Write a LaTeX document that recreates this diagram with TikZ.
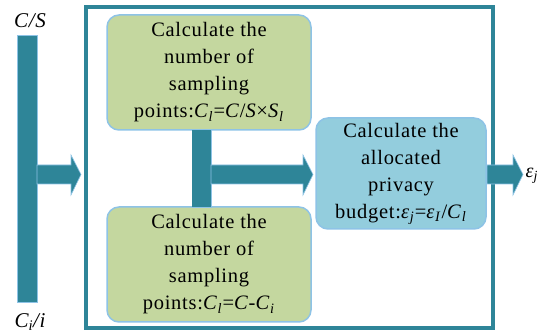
\documentclass[tikz,border=0pt]{standalone}
\usepackage{fontspec}
\setmainfont{Liberation Serif}[LetterSpace=3.5]
\definecolor{teal1}{HTML}{2E8598}
\definecolor{green1}{HTML}{C4D79F}
\definecolor{blue1}{HTML}{93CDDD}
\definecolor{edge1}{HTML}{8EC3E6}
\begin{document}
\begin{tikzpicture}[x=1pt,y=-1pt,
  txt/.style={font=\fontsize{20.5}{27}\selectfont},
  procbox/.style={txt,draw=edge1,line width=1.5pt,rounded corners=12pt,align=center,inner sep=0pt},
  bar/.style={fill=teal1,draw=edge1,line width=0.6pt}]
\useasboundingbox (0,0) rectangle (539,334);
% outer frame
\draw[teal1,line width=4pt] (86,7) rectangle (493,328);
% boxes
\node[procbox,fill=green1,minimum width=204pt,minimum height=115pt] (g1) at (209,72.5)
  {Calculate the\\number of\\sampling\\points:\textit{C}\textsubscript{\textit{l}}=\textit{C}/\textit{S}×\textit{S}\textsubscript{\textit{l}}};
\node[procbox,fill=green1,minimum width=204pt,minimum height=115pt] (g2) at (209,264.5)
  {Calculate the\\number of\\sampling\\points:\textit{C}\textsubscript{\textit{l}}=\textit{C}-\textit{C}\textsubscript{\textit{i}}};
\node[procbox,fill=blue1,minimum width=170pt,minimum height=111pt] (b1) at (401,173.5)
  {Calculate the\\allocated\\privacy\\budget:\textit{ε}\textsubscript{\textit{j}}=\textit{ε}\textsubscript{\textit{I}}/\textit{C}\textsubscript{\textit{l}}};
% left input bar and arrow
\draw[bar] (17,35) rectangle (37,302);
\node[txt,font=\fontsize{21}{25}\selectfont\itshape] (cs) at (30,21) {C/S};
\node[txt,font=\fontsize{21}{25}\selectfont\itshape] (ci) at (30,322) {C\textsubscript{i}/i};
\draw[bar] (37,165) -- (71,165) -- (71,155) -- (81,174.5) -- (71,195) -- (71,184) -- (37,184) -- cycle;
% connector between green boxes and arrow to blue box
\draw[bar] (192,130) rectangle (211,207);
\fill[teal1] (192.3,130) rectangle (210.7,207);
\draw[bar] (211,165) -- (303,165) -- (303,155) -- (313,174.5) -- (303,195) -- (303,184) -- (211,184) -- cycle;
% output arrow
\draw[bar] (487,165) -- (513,165) -- (513,155) -- (523,174.5) -- (513,195) -- (513,184) -- (487,184) -- cycle;
\node[txt,font=\fontsize{20}{24}\selectfont\itshape,anchor=west,inner sep=0pt] (ej) at (525.5,176) {ε\textsubscript{j}};
\end{tikzpicture}
\end{document}
